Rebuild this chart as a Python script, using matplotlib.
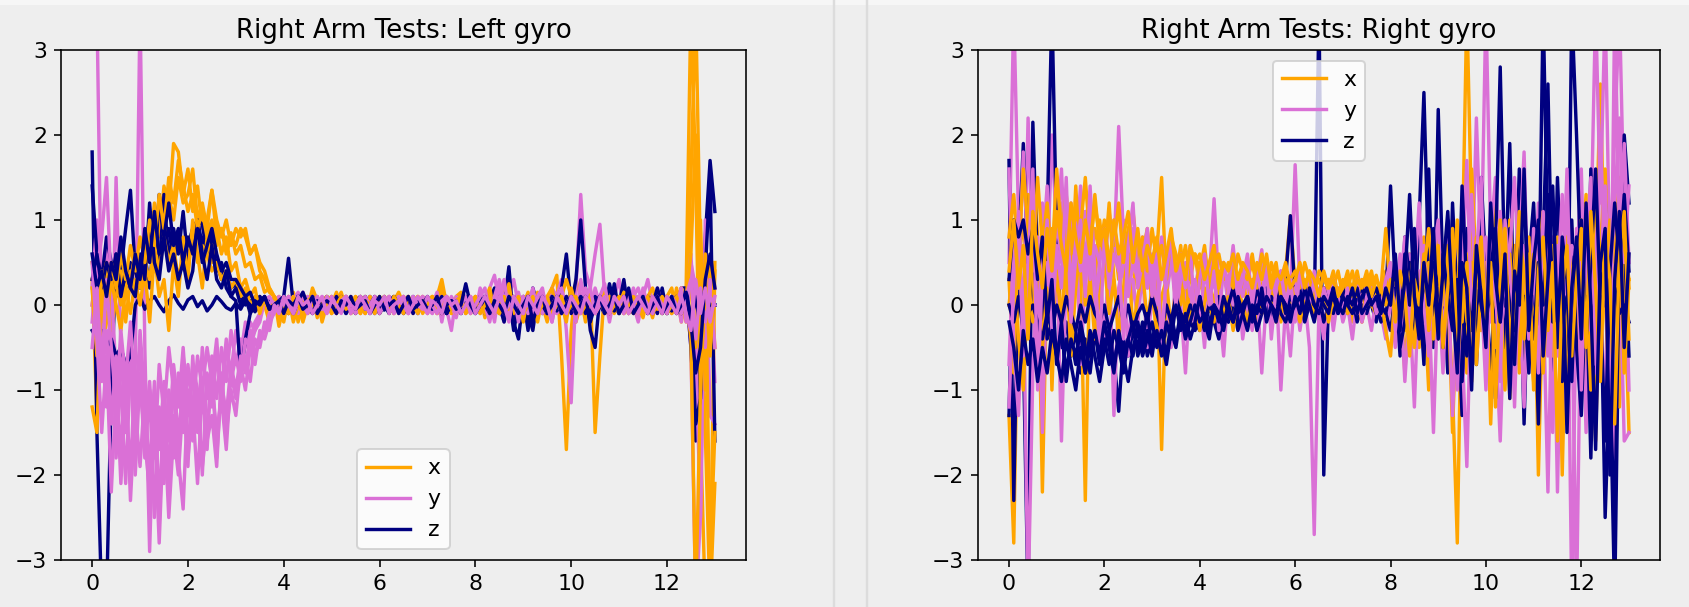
import matplotlib
matplotlib.use("Agg")
import matplotlib.pyplot as plt
from matplotlib.lines import Line2D
from matplotlib.patches import Rectangle
import numpy as np

# gyro traces, sampled every 0.1 s from 0 to 13 s (values read off the screenshot)
# --- left gyro ---
lx1 = [0.3, -1.3, -0.4, 0.5, 0.2, 0.6, 0.1, 0.4, 0.2, 0.5,
       0.3, 0.9, 0.6, 1.2, 0.8, 1.4, 1.1, 1.9, 1.8, 1.3,
       1.6, 1.1, 1.4, 0.9, 1.0, 1.35, 0.8, 0.9, 0.7, 0.85,
       0.6, 0.7, 0.45, 0.5, 0.3, 0.35, 0.15, 0.2, 0.1, 0.05,
       0.1, -0.1, 0.15, 0.0, 0.1, -0.05, 0.2, 0.05, -0.1, 0.1,
       0.0, 0.15, -0.05, 0.1, 0.0, -0.1, 0.1, 0.05, -0.05, 0.1,
       0.0, 0.1, -0.1, 0.05, 0.15, 0.0, -0.1, 0.05, 0.1, -0.05,
       0.05, 0.1, -0.05, 0.2, 0.0, -0.1, 0.1, 0.15, -0.05, 0.1,
       0.0, 0.1, -0.15, 0.1, 0.05, -0.1, 0.2, 0.0, -0.2, 0.1,
       0.0, 0.15, -0.1, 0.1, 0.0, -0.2, 0.2, 0.35, -0.6, -1.7,
       -0.3, 0.3, 0.1, -0.2, 0.2, -1.5, -0.6, 0.2, 0.1, 0.0,
       0.1, -0.1, 0.15, 0.0, -0.1, 0.1, 0.05, -0.15, 0.1, 0.0,
       0.1, -0.1, 0.2, -0.2, 0.2, 3.5, 1.5, -1.5, -3.5, -3.5,
       -2.1]
lx2 = [0.0, 0.5, -0.2, 0.4, 0.1, 0.3, 0.0, 0.2, 0.4, 0.1,
       0.5, 0.3, 0.9, 0.6, 1.1, 0.8, 1.3, 1.0, 1.5, 1.2,
       1.3, 1.6, 1.0, 1.2, 0.9, 1.35, 1.0, 0.8, 1.0, 0.7,
       0.9, 0.8, 0.9, 0.6, 0.7, 0.4, 0.3, 0.15, 0.1, -0.1,
       -0.2, 0.1, -0.1, 0.05, -0.2, 0.0, 0.1, -0.15, 0.05, 0.1,
       -0.1, 0.05, 0.15, -0.05, 0.1, 0.0, -0.1, 0.1, 0.0, 0.05,
       -0.05, 0.1, 0.0, -0.1, 0.05, 0.1, 0.0, -0.05, 0.1, 0.0,
       -0.1, 0.05, 0.1, 0.3, 0.0, -0.1, 0.05, 0.1, -0.1, 0.0,
       0.1, -0.1, 0.05, 0.2, -0.1, 0.1, 0.0, 0.25, -0.1, 0.1,
       -0.2, 0.1, 0.0, 0.15, -0.1, 0.1, 0.2, -0.1, 0.1, 0.3,
       0.1, -0.2, 0.0, 0.15, -0.1, 0.1, 0.0, 0.2, -0.1, 0.05,
       0.0, 0.15, -0.1, 0.1, 0.0, -0.15, 0.1, 0.2, 0.0, -0.1,
       0.1, 0.2, -0.1, 0.1, -0.2, 1.5, 3.5, 0.5, -1.5, -3.5,
       0.5]
lx3 = [-1.2, -1.5, 0.2, 0.5, -0.3, 0.1, 0.4, -0.2, 0.3, 0.6,
       0.2, 0.5, 0.3, 0.7, 0.4, 0.8, 0.5, 0.7, 0.3, 0.6,
       0.4, 0.9, 0.5, 0.7, 0.6, 0.4, 0.5, 0.3, 0.4, 0.2,
       0.3, 0.1, 0.2, 0.0, 0.1, -0.1, 0.0, -0.2, 0.1, -0.25,
       0.0, -0.1, 0.1, -0.2, 0.0, 0.1, -0.1, 0.0, -0.15, 0.05,
       0.1, -0.1, 0.0, 0.05, -0.1, 0.1, 0.0, -0.1, 0.05, 0.0,
       0.1, -0.05, 0.0, 0.1, -0.1, 0.05, 0.1, -0.1, 0.0, 0.1,
       -0.05, 0.0, 0.1, -0.1, 0.05, 0.0, -0.1, 0.1, 0.05, -0.1,
       0.0, 0.1, -0.1, 0.0, 0.1, -0.1, 0.0, 0.1, -0.05, 0.0,
       0.1, -0.1, 0.0, -0.2, 0.1, 0.0, -0.1, 0.1, 0.0, -0.2,
       0.2, 0.0, -0.1, 0.1, 0.0, -0.1, 0.1, 0.0, 0.1, -0.1,
       0.1, 0.0, -0.1, 0.05, 0.1, -0.1, 0.0, 0.1, -0.05, 0.0,
       0.1, -0.1, 0.05, 0.2, 0.1, -0.4, -3.5, -1.0, 0.6, -3.0,
       -1.5]
lx4 = [0.5, 0.2, -0.5, -0.2, 0.3, 0.0, -0.3, 0.2, -0.1, 0.3,
       0.0, 0.4, -0.2, 0.6, 0.1, 0.3, -0.3, 0.5, 0.1, 0.8,
       0.3, 1.0, 0.6, 0.2, 0.8, 0.5, 0.9, 0.6, 0.8, 0.4,
       0.5, 0.2, 0.3, 0.1, 0.2, -0.1, 0.1, -0.2, 0.0, 0.1,
       -0.1, 0.1, -0.2, 0.0, 0.1, -0.1, 0.0, 0.1, -0.2, 0.0,
       0.1, -0.1, 0.0, 0.1, -0.1, 0.0, 0.1, -0.1, 0.1, 0.0,
       -0.1, 0.0, 0.1, -0.1, 0.0, 0.1, -0.05, 0.0, 0.1, -0.1,
       0.0, 0.1, -0.1, 0.0, 0.1, 0.0, -0.1, 0.1, 0.0, -0.05,
       0.1, 0.0, -0.1, 0.1, 0.0, -0.1, 0.1, 0.0, 0.1, -0.1,
       0.0, 0.1, -0.1, 0.0, 0.1, -0.1, 0.05, 0.1, -0.1, 0.0,
       0.1, -0.1, 0.0, 0.1, -0.1, 0.0, 0.1, -0.1, 0.0, 0.1,
       -0.1, 0.0, 0.1, -0.1, 0.0, 0.1, -0.1, 0.0, 0.1, -0.1,
       0.0, 0.1, -0.1, 0.1, 0.0, 0.2, -0.5, 1.0, -1.0, 0.5,
       -0.5]
lx5 = [0.2, -0.6, 0.4, 0.1, 0.5, 0.2, 0.6, 0.3, 0.7, 0.4,
       0.8, 0.5, 1.0, 0.7, 1.3, 0.9, 1.5, 1.2, 1.7, 1.4,
       1.1, 1.3, 0.9, 1.1, 0.8, 1.0, 0.7, 0.9, 0.6, 0.8,
       0.7, 0.9, 0.8, 0.6, 0.7, 0.5, 0.4, 0.2, 0.1, 0.0,
       0.05, -0.1, 0.1, 0.0, -0.1, 0.05, 0.1, -0.1, 0.0, 0.1,
       -0.1, 0.0, 0.1, -0.05, 0.0, 0.1, -0.1, 0.05, 0.0, -0.1,
       0.1, 0.0, -0.05, 0.1, 0.0, -0.1, 0.1, 0.0, -0.1, 0.05,
       0.0, 0.1, -0.1, 0.0, 0.1, -0.05, 0.0, 0.1, -0.1, 0.0,
       0.1, -0.1, 0.0, 0.1, -0.1, 0.0, 0.1, -0.05, 0.0, 0.1,
       -0.1, 0.0, 0.1, -0.1, 0.0, 0.1, -0.1, 0.0, 0.1, -0.1,
       0.0, 0.1, -0.1, 0.0, 0.1, -0.1, 0.0, 0.1, -0.1, 0.0,
       0.1, -0.1, 0.0, 0.1, -0.1, 0.0, 0.1, -0.1, 0.0, 0.1,
       -0.1, 0.0, 0.1, -0.1, 0.1, 0.6, 2.0, -1.0, 0.3, -0.6,
       0.4]
ly1 = [3.5, 3.5, -0.3, 0.8, -1.0, 1.5, -0.5, -1.5, -0.6, -2.0,
       -0.8, -1.8, -1.0, -2.5, -1.2, -2.1, -1.0, -1.8, -0.8, -1.5,
       -0.7, -1.3, -0.6, -1.0, -0.5, -0.9, -0.4, -1.2, -0.5, -0.8,
       -0.3, -0.6, -0.2, -0.4, -0.2, -0.1, 0.0, -0.1, 0.1, 0.0,
       0.1, -0.1, 0.05, 0.15, -0.05, 0.0, 0.1, -0.1, 0.05, 0.0,
       -0.1, 0.1, 0.0, -0.05, 0.1, 0.05, -0.1, 0.0, 0.1, -0.05,
       0.0, 0.1, -0.05, 0.0, 0.1, -0.1, 0.05, 0.0, -0.1, 0.1,
       0.05, -0.1, 0.0, 0.1, -0.05, -0.3, 0.1, 0.0, -0.1, 0.05,
       0.0, 0.1, -0.1, 0.2, 0.35, 0.0, -0.2, 0.1, 0.3, 0.0,
       0.0, 0.1, -0.1, 0.05, 0.1, -0.1, 0.2, 0.1, 0.3, -0.3,
       -1.15, 0.2, 1.3, 0.4, 0.2, 0.6, 0.95, 0.1, -0.2, 0.1,
       0.3, -0.1, 0.1, 0.0, -0.2, 0.1, 0.3, 0.0, -0.1, 0.1,
       0.1, -0.1, 0.1, -0.2, 0.2, -0.5, -3.5, -2.5, 0.6, 0.3,
       -0.9]
ly2 = [0.2, 1.0, -0.5, -1.2, 0.3, -1.8, -0.6, -1.0, -2.0, -0.7,
       3.5, -0.5, -2.9, -1.0, -2.4, -1.2, -2.0, -0.8, -1.6, -0.9,
       -1.9, -0.6, -1.4, -0.9, -1.7, -0.6, -1.1, -0.5, -0.9, -0.3,
       -0.7, -0.4, -0.5, -0.2, -0.3, -0.1, 0.1, 0.0, 0.1, -0.1,
       0.0, 0.1, -0.1, 0.0, 0.15, -0.1, 0.05, 0.1, -0.1, 0.0,
       0.1, -0.05, 0.0, 0.1, -0.1, 0.0, 0.05, -0.1, 0.1, 0.0,
       -0.1, 0.05, 0.1, -0.05, 0.0, 0.1, -0.1, 0.05, 0.0, 0.1,
       -0.1, 0.0, 0.15, -0.2, 0.1, 0.0, -0.1, 0.1, 0.0, -0.1,
       0.1, -0.1, 0.0, 0.1, -0.2, 0.2, 0.1, -0.1, 0.0, 0.15,
       -0.1, 0.0, 0.2, -0.1, 0.1, 0.0, -0.2, 0.1, 0.2, -0.1,
       0.1, -0.2, 0.3, 0.0, -0.1, 0.2, 0.0, -0.1, 0.1, 0.0,
       -0.1, 0.1, 0.0, 0.2, -0.1, 0.0, 0.1, -0.1, 0.2, 0.0,
       0.0, 0.1, -0.1, 0.2, 0.0, 0.6, -0.5, -2.5, 1.0, -1.3,
       -1.4]
ly3 = [0.0, 0.4, 0.8, 1.5, 0.2, -0.8, -2.1, -1.0, -0.5, -1.4,
       -0.3, -1.1, -2.0, -0.9, -2.6, -1.1, -1.6, -0.7, -1.2, -0.5,
       -1.3, -0.7, -1.0, -2.0, -0.8, -1.2, -0.6, -1.0, -0.4, -0.9,
       -0.6, -0.9, -0.4, -0.5, -0.3, -0.2, 0.05, 0.1, 0.0, 0.1,
       -0.1, 0.0, 0.1, -0.1, 0.05, 0.1, 0.0, -0.1, 0.1, 0.0,
       0.05, -0.1, 0.1, 0.0, -0.1, 0.05, 0.1, 0.0, -0.1, 0.1,
       0.0, -0.05, 0.1, 0.0, -0.1, 0.05, 0.0, 0.1, -0.1, 0.0,
       0.1, 0.0, -0.1, 0.05, 0.1, 0.0, -0.15, 0.1, 0.0, 0.1,
       -0.1, 0.0, 0.1, -0.1, 0.1, 0.3, 0.0, -0.1, 0.1, 0.0,
       0.1, -0.1, 0.0, 0.1, -0.1, 0.0, 0.1, -0.1, 0.0, 0.1,
       0.0, -0.1, 0.1, 0.2, -0.1, 0.0, 0.1, 0.25, -0.1, 0.0,
       0.1, 0.0, -0.1, 0.1, 0.2, 0.0, -0.1, 0.0, 0.1, -0.1,
       0.0, 0.1, 0.0, -0.1, 0.1, 0.4, -0.6, 0.2, -0.4, 0.5,
       0.2]
ly4 = [-0.2, 0.5, -0.8, 0.3, -0.5, -1.2, -0.3, -0.9, -0.2, -1.1,
       -0.5, -1.5, -0.9, -1.8, -0.7, -1.3, -0.5, -1.0, -1.9, -0.6,
       -1.2, -0.8, -1.5, -0.5, -1.1, -0.7, -1.8, -0.9, -1.3, -0.7,
       -1.0, -0.6, -0.8, -0.3, -0.6, -0.4, -0.3, -0.1, 0.0, 0.1,
       0.0, 0.1, -0.1, 0.0, 0.1, 0.0, -0.1, 0.1, 0.0, -0.1,
       0.1, 0.0, -0.05, 0.1, 0.0, -0.1, 0.0, 0.1, 0.0, -0.1,
       0.05, 0.0, 0.1, -0.1, 0.0, 0.1, 0.0, -0.1, 0.05, 0.1,
       0.0, -0.1, 0.1, 0.0, -0.05, 0.1, 0.0, -0.1, 0.1, 0.0,
       -0.1, 0.2, 0.0, -0.2, 0.1, 0.0, 0.3, -0.1, 0.1, 0.0,
       -0.1, 0.1, 0.0, -0.1, 0.15, 0.0, -0.1, 0.1, 0.0, -0.1,
       0.1, 0.0, -0.1, 0.1, 0.0, -0.1, 0.1, 0.0, -0.1, 0.1,
       0.0, -0.1, 0.1, 0.0, -0.1, 0.2, 0.0, -0.1, 0.1, 0.0,
       -0.1, 0.1, 0.0, 0.2, -0.2, 0.5, 0.2, -0.3, -0.5, 0.3,
       -0.5]
ly5 = [0.5, -0.4, -1.5, -0.6, -2.2, -1.0, -1.7, -0.8, -2.3, -1.2,
       -1.9, -1.0, -2.2, -1.4, -2.8, -1.3, -2.5, -1.5, -2.0, -1.1,
       -1.8, -1.2, -2.1, -1.0, -1.6, -1.3, -1.9, -0.8, -1.5, -1.0,
       -1.3, -0.7, -1.0, -0.5, -0.7, -0.3, -0.4, -0.2, -0.1, 0.05,
       0.0, 0.1, -0.1, 0.05, 0.0, -0.1, 0.1, 0.0, -0.05, 0.1,
       0.0, -0.1, 0.05, 0.1, -0.1, 0.0, 0.1, -0.05, 0.0, 0.1,
       -0.1, 0.0, 0.1, -0.1, 0.05, 0.0, -0.1, 0.1, 0.0, -0.05,
       0.1, 0.0, -0.1, 0.05, 0.1, 0.0, -0.1, 0.0, 0.1, -0.1,
       0.0, 0.1, 0.2, -0.1, 0.0, 0.25, -0.1, 0.0, 0.1, -0.2,
       0.1, 0.0, -0.1, 0.1, 0.2, -0.1, 0.0, 0.1, -0.1, 0.0,
       0.1, -0.1, 0.0, 0.1, 0.2, -0.1, 0.0, 0.1, -0.1, 0.1,
       0.0, -0.1, 0.1, 0.0, -0.1, 0.1, 0.0, -0.1, 0.1, 0.0,
       -0.1, 0.1, 0.0, -0.1, 0.1, 0.3, -0.4, 0.2, -0.2, 0.1,
       0.0]
ly6 = [-0.5, 0.2, -0.9, -0.3, -1.4, -0.6, -1.0, -2.1, -0.7, -1.3,
       -0.9, -1.6, -2.2, -1.2, -1.7, -0.9, -2.1, -1.3, -1.8, -2.4,
       -1.0, -1.6, -1.1, -1.9, -1.4, -0.9, -1.5, -1.1, -1.7, -0.8,
       -1.1, -0.8, -0.6, -0.9, -0.4, -0.5, -0.2, -0.3, 0.0, -0.1,
       0.1, 0.0, -0.1, 0.1, 0.0, 0.05, -0.1, 0.0, 0.1, -0.1,
       0.05, 0.0, -0.1, 0.1, 0.0, -0.05, 0.1, 0.0, -0.1, 0.05,
       0.0, 0.1, -0.1, 0.0, 0.05, 0.1, -0.1, 0.0, 0.1, 0.0,
       -0.1, 0.05, 0.0, -0.1, 0.1, 0.0, 0.05, -0.1, 0.0, 0.1,
       -0.1, 0.0, 0.1, 0.0, -0.1, 0.1, 0.0, -0.2, 0.1, 0.0,
       -0.1, 0.1, 0.0, -0.1, 0.1, 0.0, -0.2, 0.1, 0.0, -0.1,
       0.1, 0.0, -0.1, 0.1, 0.0, -0.1, 0.1, 0.0, -0.1, 0.1,
       0.0, 0.1, -0.1, 0.0, 0.1, 0.0, -0.1, 0.1, 0.0, -0.1,
       0.1, 0.0, -0.1, 0.1, -0.1, -0.3, 0.3, -0.1, 0.2, -0.2,
       0.1]
lz1 = [1.8, -1.5, -3.5, -3.5, -1.0, 0.6, 0.3, 0.2, 0.5, 0.1,
       0.3, 0.6, 0.2, 0.9, 0.4, 1.3, 0.5, 0.9, 0.6, 1.1,
       0.5, 0.8, 1.0, 0.7, 1.0, 0.6, 0.5, 0.3, 0.4, 0.2,
       0.25, 0.1, 0.0, 0.05, -0.05, 0.1, 0.0, 0.05, -0.05, 0.0,
       0.1, 0.55, 0.0, 0.1, -0.05, 0.05, 0.1, 0.0, -0.1, 0.05,
       0.0, 0.05, -0.05, 0.1, 0.0, -0.1, 0.05, 0.0, 0.1, -0.05,
       0.0, 0.1, -0.05, 0.0, 0.05, -0.1, 0.0, 0.1, -0.05, 0.0,
       0.05, -0.05, 0.1, 0.0, -0.1, 0.05, 0.0, 0.1, -0.05, 0.0,
       0.0, 0.1, -0.1, 0.05, 0.2, -0.1, 0.0, 0.45, -0.2, -0.4,
       0.1, -0.3, 0.2, 0.0, -0.1, 0.1, 0.0, 0.05, 0.2, 0.6,
       0.0, 0.3, 1.0, 0.2, -0.3, -0.5, 0.1, 0.2, -0.1, 0.1,
       0.0, 0.3, -0.1, 0.1, 0.0, -0.1, 0.1, 0.05, -0.1, 0.2,
       -0.1, 0.1, 0.0, 0.2, 0.2, -0.5, -1.6, -0.3, 0.8, 1.7,
       1.1]
lz2 = [1.4, 0.6, 0.3, 0.8, 0.5, 0.1, 0.4, 0.9, 1.35, 0.4,
       0.2, 0.7, 1.0, 0.4, 1.3, 0.7, 0.9, 0.5, 0.8, 0.6,
       0.7, 0.9, 1.0, 0.95, 0.6, 0.8, 0.4, 0.5, 0.2, 0.1,
       0.05, -0.85, -0.4, -0.1, 0.0, 0.1, 0.0, -0.1, 0.05, 0.0,
       0.05, -0.1, 0.0, 0.1, -0.05, 0.0, 0.1, -0.1, 0.0, 0.05,
       -0.05, 0.1, 0.0, -0.1, 0.05, 0.0, -0.05, 0.1, 0.0, -0.1,
       0.05, 0.0, -0.1, 0.1, 0.0, -0.05, 0.05, 0.0, -0.1, 0.05,
       0.0, -0.05, 0.1, 0.0, -0.1, 0.0, 0.05, -0.1, 0.1, 0.0,
       -0.1, 0.05, 0.0, -0.1, 0.1, 0.0, -0.2, 0.1, -0.3, 0.0,
       0.1, -0.1, -0.3, 0.1, 0.0, -0.1, 0.1, 0.0, -0.1, 0.1,
       -0.1, 0.0, 0.1, -0.1, 0.0, 0.1, 0.0, -0.1, 0.25, 0.0,
       -0.1, 0.1, 0.0, -0.1, 0.1, 0.0, 0.1, -0.1, 0.0, 0.1,
       -0.1, 0.0, 0.1, -0.1, 0.1, -0.2, -1.4, -1.1, 0.4, 1.5,
       -1.6]
lz3 = [-0.3, -0.4, -0.3, -0.5, -0.4, -0.6, -0.5, -0.7, -0.6, 0.0,
       0.1, -0.05, 0.05, 0.1, 0.0, -0.08, 0.05, 0.12, 0.02, -0.05,
       0.06, 0.1, -0.02, 0.05, -0.07, 0.0, 0.1, 0.04, -0.03, -0.06,
       0.02, -0.05, 0.06, 0.0, -0.08, 0.02, 0.05, -0.02, -0.06, 0.03,
       0.05, -0.02, -0.06, 0.01, 0.07, -0.05, 0.0, 0.06, -0.03, -0.05,
       0.02, 0.06, -0.01, -0.07, 0.03, 0.05, -0.02, -0.06, 0.01, 0.05,
       -0.03, -0.06, 0.02, 0.06, -0.01, -0.05, 0.03, 0.07, -0.02, -0.06,
       0.01, 0.05, -0.03, -0.07, 0.02, 0.06, -0.01, -0.05, 0.03, 0.07,
       -0.02, -0.06, 0.01, 0.05, -0.03, -0.07, 0.02, 0.06, -0.01, -0.05,
       0.03, 0.07, -0.02, -0.06, 0.01, 0.05, -0.03, -0.07, 0.02, 0.06,
       -0.01, -0.05, 0.03, 0.07, -0.02, -0.06, 0.01, 0.05, -0.03, -0.07,
       0.02, 0.06, -0.01, -0.05, 0.03, 0.07, -0.02, -0.06, 0.01, 0.05,
       -0.03, -0.07, 0.02, 0.06, 0.0, -0.1, 0.2, 0.0, -0.1, 0.0,
       0.0]
lz4 = [0.3, 0.6, 0.2, 0.5, 0.3, 0.6, 0.1, 0.4, 0.2, 0.1,
       0.6, 0.3, 1.2, 0.5, 0.3, 0.8, 0.4, 0.6, 0.3, 0.5,
       0.2, 0.4, 1.0, 0.6, 0.3, 0.7, 0.3, 0.2, 0.4, 0.1,
       0.2, 0.0, 0.1, -0.1, 0.05, 0.0, 0.1, -0.05, 0.0, 0.05,
       0.1, 0.0, -0.1, 0.05, 0.15, 0.0, -0.1, 0.05, 0.0, 0.1,
       -0.05, 0.0, 0.1, -0.1, 0.0, 0.05, 0.1, -0.05, 0.0, 0.1,
       -0.1, 0.0, 0.05, 0.1, -0.05, 0.0, 0.1, -0.1, 0.05, 0.0,
       0.1, -0.05, 0.0, 0.1, -0.1, 0.05, 0.0, -0.1, 0.1, 0.0,
       -0.05, 0.1, 0.0, -0.1, 0.05, 0.1, -0.1, 0.0, 0.1, -0.05,
       0.0, 0.1, -0.1, 0.05, 0.0, -0.1, 0.1, 0.0, -0.05, 0.1,
       0.0, -0.1, 0.1, 0.0, -0.1, 0.05, 0.1, 0.0, -0.1, 0.25,
       -0.1, 0.0, 0.1, -0.05, 0.0, 0.1, -0.1, 0.0, 0.2, 0.0,
       -0.1, 0.1, 0.0, -0.1, 0.2, -0.2, 0.1, -0.3, 0.1, 0.0,
       0.0]
lz5 = [0.6, 0.2, 0.4, 0.1, 0.5, 0.3, 0.8, 0.4, 0.2, 0.6,
       0.3, 0.9, 0.5, 1.1, 0.6, 0.8, 1.2, 0.7, 0.9, 0.5,
       0.8, 0.6, 0.9, 0.5, 0.7, 0.9, 0.6, 0.4, 0.5, 0.3,
       0.3, 0.2, 0.1, 0.15, 0.0, 0.05, 0.1, -0.05, 0.0, 0.05,
       -0.1, 0.05, 0.0, 0.1, -0.05, 0.0, 0.1, -0.1, 0.0, 0.05,
       0.0, -0.1, 0.05, 0.0, 0.1, -0.05, 0.0, 0.05, -0.1, 0.0,
       0.1, -0.05, 0.0, 0.05, -0.1, 0.0, 0.1, -0.05, 0.0, 0.05,
       -0.05, 0.0, 0.1, -0.1, 0.0, 0.05, -0.05, 0.0, 0.25, 0.0,
       -0.1, 0.0, 0.1, -0.1, 0.05, 0.0, -0.1, 0.1, 0.0, -0.1,
       0.0, 0.1, -0.2, 0.0, 0.1, -0.1, 0.0, 0.1, -0.1, 0.0,
       0.1, -0.1, 0.0, 0.1, -0.2, 0.0, 0.1, -0.1, 0.0, 0.1,
       -0.1, 0.0, 0.2, -0.1, 0.0, 0.1, -0.1, 0.0, 0.1, -0.1,
       0.0, 0.1, -0.1, 0.0, 0.15, -0.2, -0.8, -0.5, 0.3, 0.6,
       0.2]

# --- right gyro ---
rx1 = [-1.3, -2.8, 0.5, 1.0, 0.2, 1.7, 0.8, -2.2, 0.5, 0.9,
       0.4, 1.2, 0.6, 1.0, 0.3, 0.8, 1.1, 0.5, 0.9, 0.6,
       1.0, 0.5, 0.8, 0.3, 0.9, 0.4, 0.7, 0.2, 0.6, 0.9,
       0.3, 0.6, 1.5, 0.2, 0.5, 0.3, 0.7, 0.1, 0.4, 0.6,
       0.2, 0.5, 0.3, 0.6, 0.1, 0.4, 0.3, 0.5, 0.2, 0.4,
       0.3, 0.6, 0.2, 0.4, 0.1, 0.5, 0.3, 0.2, 0.4, 1.05,
       0.2, 0.3, 0.1, 0.4, 0.2, 0.3, 0.1, 0.3, 0.2, 0.4,
       0.1, 0.3, 0.2, 0.4, 0.1, 0.3, 0.2, 0.35, 0.1, 0.4,
       0.2, 0.0, 0.5, -0.3, 0.6, 0.1, -0.5, 0.8, 0.0, 0.5,
       -0.4, 0.7, 0.2, -1.0, -2.8, 0.5, 3.5, 1.0, -0.5, 0.6,
       -0.8, 0.4, 1.2, -0.6, 0.3, -1.1, 0.7, 0.0, -0.9, 0.5,
       0.8, -2.0, 0.3, 1.0, -0.5, 0.6, -1.3, 0.2, 0.9, -0.7,
       0.4, 1.3, -1.0, 0.5, 2.6, 0.1, -1.2, 0.8, 1.5, 0.3,
       -1.5]
rx2 = [0.3, -0.8, 0.9, -0.5, 1.3, 0.4, -0.6, 0.7, 1.1, -1.0,
       0.6, -0.3, 0.9, 0.2, 1.4, 0.4, -2.3, 0.8, 0.3, 1.0,
       0.5, 1.2, 0.3, -0.2, 0.9, 0.5, 0.1, 0.8, 0.2, 0.6,
       0.0, 0.4, -1.7, 0.3, 0.6, 0.0, 0.5, -0.2, 0.4, 0.1,
       0.5, -0.1, 0.3, 0.0, 0.4, -0.2, 0.2, 0.4, -0.1, 0.3,
       0.0, 0.3, -0.3, 0.2, 0.5, -0.1, 0.2, -0.2, 0.3, 0.0,
       0.2, -0.1, 0.3, 0.0, 0.2, -0.2, 0.1, 0.3, -0.1, 0.2,
       0.0, 0.3, -0.2, 0.1, 0.2, -0.1, 0.3, 0.0, 0.2, 0.9,
       0.1, -0.4, 0.3, -0.8, 0.2, 0.6, -0.3, 0.1, -1.0, 0.4,
       0.8, -0.6, 0.3, -1.5, 0.2, 0.9, -0.8, 1.6, 0.4, -0.3,
       0.5, -1.4, 0.2, 0.8, -0.4, 1.0, 0.1, -0.8, 0.6, -0.2,
       -0.9, 0.5, 1.1, 0.0, -0.6, 0.8, -2.0, 0.4, 0.7, -0.5,
       1.0, -0.8, 0.3, -1.6, 0.7, 1.6, -0.4, 0.9, -1.2, 0.6,
       0.2]
rx3 = [0.0, 0.5, -0.4, -1.0, 0.3, -0.2, 0.6, -0.5, 0.2, -0.3,
       0.4, -0.2, 0.5, -0.6, 0.2, 0.7, 0.0, 0.3, -0.4, 0.1,
       0.5, -0.1, 0.3, -0.4, 0.2, 0.6, -0.3, 0.1, 0.4, -0.2,
       0.2, -0.4, 0.1, 0.3, -0.3, 0.2, 0.0, 0.4, -0.2, 0.1,
       -0.3, 0.2, 0.0, -0.2, 0.3, -0.1, 0.1, -0.3, 0.2, 0.0,
       -0.2, 0.1, 0.3, -0.1, 0.0, 0.2, -0.2, 0.1, -0.1, 0.3,
       0.0, -0.2, 0.1, 0.2, -0.1, 0.0, 0.2, -0.2, 0.1, 0.0,
       0.2, -0.1, 0.0, 0.1, -0.2, 0.2, 0.0, -0.1, 0.1, -0.3,
       -0.6, 0.2, -0.2, 0.4, -0.1, -0.5, 0.3, 0.0, 0.5, -0.4,
       0.2, -0.3, 0.6, 0.0, -0.5, 0.3, -0.2, 0.5, -0.7, 0.2,
       -0.3, 0.6, -0.5, 0.2, -1.0, 0.4, 0.0, -0.6, 0.3, 0.8,
       -0.2, 0.4, -0.8, 0.3, 0.1, -0.4, 0.5, -1.1, 0.2, 0.6,
       -0.5, 0.3, -1.0, 0.8, -0.3, 0.5, -1.5, 0.2, 0.9, -0.8,
       0.3]
rx4 = [0.8, 1.3, 0.5, 1.6, 0.9, 0.4, 1.5, 0.7, 1.2, 0.5,
       1.6, 0.8, 1.3, 0.6, 1.1, 0.9, 1.5, 0.7, 1.2, 0.8,
       0.6, 1.0, 0.7, 1.2, 0.5, 0.9, 1.1, 0.6, 0.8, 0.4,
       0.9, 0.5, 0.7, 0.3, 0.8, 0.6, 0.4, 0.7, 0.3, 0.6,
       0.4, 0.7, 0.2, 0.5, 0.6, 0.3, 0.5, 0.2, 0.6, 0.4,
       0.3, 0.5, 0.2, 0.6, 0.4, 0.3, 0.5, 0.1, 0.4, 0.3,
       0.4, 0.2, 0.5, 0.3, 0.1, 0.4, 0.3, 0.2, 0.4, 0.1,
       0.3, 0.2, 0.4, 0.1, 0.3, 0.2, 0.4, 0.1, 0.2, 0.3,
       0.1, 0.4, -0.1, 0.5, 0.2, 0.7, 0.0, 0.4, 0.9, 0.2,
       0.5, 0.0, 0.7, 0.3, 1.0, -0.2, 0.6, 0.2, 0.8, 0.4,
       0.1, 0.7, 0.3, 1.0, 0.2, 0.6, -0.1, 0.8, 0.4, 0.0,
       0.6, 0.2, 0.9, 0.4, 0.7, 0.1, 0.5, 0.8, 0.3, 0.6,
       0.2, 0.9, 0.4, 1.2, 0.6, 0.3, 1.0, 0.5, 1.3, 0.7,
       0.3]
rx5 = [0.4, 1.0, 0.2, 0.7, -0.4, 1.1, 0.6, 0.2, 0.9, 0.4,
       1.1, 0.7, 0.4, 1.2, 0.8, 0.5, 1.0, 0.6, 1.3, 0.7,
       0.9, 0.4, 1.0, 0.6, 0.8, 1.1, 0.5, 0.9, 0.4, 0.7,
       0.5, 0.8, 0.3, 0.6, 0.9, 0.4, 0.6, 0.3, 0.7, 0.5,
       0.6, 0.3, 0.5, 0.7, 0.2, 0.5, 0.4, 0.6, 0.3, 0.5,
       0.4, 0.2, 0.5, 0.3, 0.6, 0.2, 0.4, 0.3, 0.5, 0.2,
       0.3, 0.5, 0.2, 0.4, 0.3, 0.1, 0.4, 0.2, 0.3, 0.1,
       0.2, 0.4, 0.1, 0.3, 0.2, 0.4, 0.1, 0.3, 0.2, 0.0,
       0.3, -0.2, 0.4, 0.1, -0.6, 0.3, 0.0, 0.6, -0.3, 0.2,
       0.7, -0.5, 0.2, 0.9, -0.7, 0.1, 0.5, -0.9, 0.3, 0.8,
       -0.2, 0.5, -1.2, 0.3, 0.9, -0.5, 0.2, 1.1, -0.4, 0.6,
       -1.0, 0.4, 0.8, -0.3, 0.5, -1.6, 0.2, 0.7, -0.6, 0.3,
       0.9, -0.5, 1.1, 0.2, -0.9, 0.8, 0.3, -1.4, 0.6, 1.1,
       -0.4]
ry1 = [0.5, 3.5, 1.0, -0.3, 2.2, 0.6, -0.8, 1.2, 0.4, 2.0,
       0.8, 1.6, 0.3, 1.2, 0.6, 1.4, 0.5, 1.0, 0.3, 0.9,
       0.4, 1.1, 0.6, 2.1, 0.8, 0.3, 0.9, 0.4, 0.7, 0.2,
       0.6, 0.3, 0.8, 0.1, 0.5, 0.3, 0.6, 0.0, 0.4, 0.2,
       0.5, 0.1, 0.3, 1.25, 0.2, 0.4, 0.0, 0.3, 0.1, 0.4,
       0.2, 0.0, 0.3, 0.65, 0.1, 0.3, 0.0, 0.2, 0.4, 0.1,
       1.65, 0.2, 0.0, 0.3, 0.1, 0.2, 0.0, 0.3, 0.1, 0.2,
       0.0, 0.2, 0.1, 0.3, 0.0, 0.2, 0.1, 0.0, 0.2, 0.1,
       0.3, 0.0, 0.4, -0.2, 0.6, 0.1, -0.3, 0.5, 0.2, 0.8,
       0.0, 0.6, -0.4, 1.0, 0.2, -0.6, 0.8, 0.1, 2.2, 0.5,
       3.5, 0.8, 1.5, 0.3, -0.5, 0.9, 0.2, 1.1, -0.3, 0.6,
       0.0, 1.2, 0.3, -0.6, 0.8, -2.2, 0.5, 1.0, -3.5, 0.4,
       1.6, -0.5, 0.8, 3.5, 1.2, 3.5, 0.4, 2.0, 3.5, 1.0,
       -1.0]
ry2 = [1.6, -0.5, -1.3, 0.3, -3.5, -0.8, 0.8, -1.5, 0.5, -0.2,
       0.6, -1.6, 0.4, -0.3, 1.0, -0.7, 0.3, 0.8, -0.2, 0.5,
       -0.4, 0.6, -1.3, 0.2, 0.5, -0.6, 0.3, -0.2, 0.4, -0.5,
       0.1, 0.5, -0.3, 0.2, -0.5, 0.4, 0.0, -0.8, 0.2, -0.3,
       0.1, -0.5, 0.3, -0.2, 0.0, -0.6, 0.2, -0.1, 0.3, -0.4,
       0.0, -0.3, 0.2, -0.8, 0.1, -0.2, 0.3, -1.0, 0.0, -0.6,
       0.2, -0.3, 0.1, -0.5, -2.7, 0.0, -0.4, 0.2, -0.3, 0.1,
       -0.2, 0.0, -0.4, 0.1, -0.2, 0.0, -0.3, 0.1, -0.1, -0.4,
       0.1, -0.5, 0.2, -0.9, 0.0, -1.2, 0.4, -0.6, 0.1, -1.5,
       0.3, -0.8, 0.5, -1.3, 0.0, -0.5, -1.9, 0.4, -0.7, 0.2,
       -1.0, 0.5, -0.3, -1.6, 0.1, 0.6, -0.8, 0.2, -1.2, 0.4,
       0.3, -1.0, 0.1, -2.2, 0.5, -0.6, 0.2, -1.4, 0.0, -3.5,
       0.5, -1.5, 0.7, -0.8, 0.2, -1.3, 1.0, -2.0, 0.6, -1.6,
       -1.5]
ry3 = [-0.7, 0.8, 0.2, 1.8, 0.5, 1.2, -0.2, 0.6, 1.4, 0.3,
       1.0, 0.5, 1.3, 0.2, 0.8, 0.4, 1.1, 0.3, 0.7, 0.5,
       0.9, 0.2, 0.6, 0.4, 1.0, 0.1, 0.5, 0.3, 0.8, 0.2,
       0.5, 0.0, 0.4, 0.2, 0.6, -0.1, 0.3, 0.5, 0.1, 0.3,
       -0.2, 0.4, 0.1, 0.3, -0.1, 0.5, 0.2, 0.0, 0.3, 0.1,
       0.4, 0.0, 0.2, 0.5, -0.1, 0.3, 0.1, 0.4, 0.0, 0.2,
       0.3, 0.0, 0.2, 0.1, 0.4, -0.1, 0.2, 0.0, 0.3, 0.1,
       0.0, 0.2, 0.1, -0.1, 0.3, 0.0, 0.2, 0.1, -0.1, 0.2,
       0.4, 0.0, 0.6, 0.2, -0.2, 0.5, 0.1, 0.7, -0.1, 0.3,
       0.6, 0.0, 0.9, 0.3, -0.3, 0.7, 0.1, 1.3, 0.2, 0.5,
       0.8, -0.2, 0.4, 1.1, 0.0, 0.6, 1.5, 0.2, 0.7, -0.4,
       0.9, 0.3, 1.0, -0.3, 0.6, 0.2, 1.3, 0.0, 0.7, 0.5,
       0.2, 1.1, -0.3, 0.9, 0.4, 1.4, 0.0, 1.2, 2.2, 0.5,
       1.4]
ry4 = [-1.2, 0.3, 1.1, -0.6, 0.5, 1.6, -1.0, 0.4, 1.0, -0.3,
       0.7, 0.2, 1.5, -0.2, 0.6, 1.0, 0.1, 1.4, 0.4, -0.5,
       0.8, 0.3, 1.0, 0.5, -0.4, 0.7, 1.2, 0.2, 0.5, 0.9,
       0.1, 0.6, -0.5, 0.4, 0.8, 0.0, 0.5, 0.2, 0.7, -0.2,
       0.3, 0.6, 0.0, 0.4, -0.3, 0.5, 0.2, 0.7, 0.1, 0.3,
       0.6, 0.0, 0.4, 0.1, 0.5, -0.4, 0.2, 0.4, 0.0, 0.3,
       -0.2, 0.4, 0.1, 0.0, 0.3, -0.1, 0.2, 0.0, 0.3, 0.1,
       -0.1, 0.2, 0.0, 0.3, -0.2, 0.1, 0.2, -0.1, 0.0, 0.3,
       0.5, -0.3, 0.2, 0.8, -0.5, 0.3, 1.2, 0.0, -0.6, 0.6,
       1.0, -0.4, 0.3, 0.7, -1.0, 0.4, 1.7, -0.2, 0.5, 1.5,
       -0.5, 0.9, 0.2, -0.9, 1.0, 0.4, -1.2, 0.6, 1.8, -0.3,
       0.5, -0.8, 1.1, 0.3, -1.5, 0.7, 0.0, 1.6, -0.6, 0.9,
       -1.0, 0.6, 1.5, -0.7, 2.0, 0.4, -1.3, 3.5, 0.8, 1.9,
       0.5]
rz1 = [1.7, -2.3, 0.8, -0.5, -3.5, 2.15, 0.4, -0.3, 1.0, 3.5,
       0.8, -0.5, -0.2, -0.6, -0.3, -0.8, -0.4, -0.6, -0.3, -0.7,
       -0.5, -0.3, -0.6, -1.25, -0.4, -0.6, -0.3, -0.5, -0.2, -0.6,
       -0.4, -0.2, -0.5, -0.3, -0.1, -0.4, -0.2, -0.3, 0.0, -0.2,
       -0.3, -0.1, -0.2, 0.0, -0.3, -0.1, -0.2, 0.1, -0.2, 0.0,
       -0.1, 0.1, -0.2, 0.0, 0.2, -0.1, 0.1, 0.0, 0.3, 1.05,
       0.1, -0.2, 0.0, 0.1, -0.1, 3.5, -2.0, 0.1, -0.1, 0.0,
       0.1, -0.1, 0.0, 0.2, -0.1, 0.1, 0.0, -0.2, 0.1, 0.0,
       1.4, 0.2, -0.6, 0.8, 0.3, -0.2, 1.0, 2.5, 0.4, -0.5,
       2.3, 0.3, -0.8, 1.2, 0.0, -1.3, 0.9, 0.2, -0.6, 1.5,
       0.4, -1.0, 0.6, 2.8, 0.2, 1.9, -0.4, 0.8, -1.4, 0.5,
       1.2, -0.3, 3.5, 0.6, -0.8, 1.5, 0.1, -1.2, 3.5, 2.0,
       0.3, -1.0, 1.6, -0.6, 0.4, -2.5, -0.8, -3.5, 0.5, 2.0,
       1.2]
rz2 = [-1.3, 1.0, 0.6, 1.9, 0.5, 0.9, -0.2, 0.6, -0.4, -0.2,
       -0.6, -0.3, -0.8, -0.4, -0.7, -0.2, -0.5, -0.8, -0.3, -0.6,
       -0.4, -0.7, -0.3, -0.5, -0.8, -0.4, -0.6, -0.2, -0.5, -0.3,
       -0.6, -0.2, -0.4, -0.7, -0.3, -0.5, -0.1, -0.4, -0.2, -0.3,
       -0.1, -0.3, 0.0, -0.2, -0.4, -0.1, -0.2, 0.0, -0.3, -0.1,
       -0.2, 0.0, -0.3, -0.1, 0.0, -0.2, 0.1, -0.1, -0.2, 0.0,
       -0.1, 0.1, -0.2, 0.0, -0.1, 0.1, -0.2, 0.0, -0.1, 0.1,
       -0.1, 0.0, 0.1, -0.2, 0.0, -0.1, 0.1, 0.0, -0.2, -0.1,
       -0.3, 0.1, -0.5, -0.2, 0.5, -0.4, 0.2, -0.7, 1.6, -0.3,
       0.6, -0.5, 1.0, -0.2, 0.3, -0.9, 0.5, 0.0, -0.7, 1.3,
       -0.4, 0.8, -1.1, 0.2, -0.5, 0.9, -0.3, 1.6, 0.1, -0.8,
       0.5, -1.4, 0.8, 2.6, -0.2, 0.4, -0.9, 0.6, 1.0, -0.5,
       -1.3, 0.3, -1.8, 0.4, -0.6, 1.3, -1.0, -2.6, 0.6, 0.8,
       -0.6]
rz3 = [0.0, -0.2, 0.1, -0.3, -0.1, 0.0, -0.2, -0.4, -0.1, -0.3,
       0.0, -0.2, 0.1, -0.1, -0.3, 0.0, -0.2, 0.1, -0.1, -0.2,
       0.0, -0.3, -0.1, 0.1, -0.2, 0.0, -0.3, -0.1, 0.0, -0.2,
       0.1, -0.1, -0.3, 0.0, -0.2, 0.1, -0.1, -0.2, 0.0, -0.1,
       0.1, -0.2, 0.0, -0.1, 0.1, -0.2, 0.0, 0.2, -0.1, 0.0,
       0.1, -0.1, 0.2, 0.0, -0.1, 0.1, 0.0, 0.2, -0.1, 0.1,
       0.0, 0.2, -0.1, 0.1, 0.0, -0.1, 0.2, 0.0, 0.1, -0.1,
       0.2, 0.0, -0.1, 0.1, 0.2, 0.0, 0.1, -0.1, 0.1, 0.2,
       0.0, 0.2, -0.1, 0.3, 0.0, 0.1, 0.2, -0.2, 0.1, 0.0,
       0.2, -0.1, 0.1, -0.3, 0.2, 0.0, -0.6, 0.1, 0.0, 0.2,
       -0.1, 0.1, -0.2, 0.2, 0.0, -0.1, 0.2, 0.0, 0.1, -0.2,
       0.1, 0.0, 0.2, -0.1, 0.1, 0.0, -0.2, 0.1, 0.0, 0.2,
       -0.1, 0.1, 0.0, -0.2, 0.1, 0.0, -0.1, 0.2, -0.1, 0.0,
       -0.2]
rz4 = [0.3, 1.0, 0.8, 1.0, 0.6, 0.9, 0.3, 0.8, -0.2, 0.3,
       -0.7, -0.2, -0.9, -0.4, -0.6, -0.3, -0.8, -0.5, -0.3, -0.6,
       -0.2, -0.5, -0.8, -0.3, -0.6, -0.4, -0.2, -0.6, -0.4, -0.1,
       -0.5, -0.3, -0.6, -0.2, -0.4, 0.0, -0.3, -0.1, -0.4, -0.2,
       0.1, -0.2, -0.4, 0.0, -0.1, -0.3, 0.0, -0.2, 0.1, -0.1,
       -0.3, 0.0, -0.1, 0.2, -0.2, 0.0, -0.1, 0.1, 0.0, -0.2,
       0.1, -0.1, 0.2, 0.0, -0.2, 0.1, 0.0, -0.1, 0.2, 0.0,
       -0.1, 0.1, 0.0, 0.2, -0.1, 0.0, 0.1, 0.2, 0.0, -0.1,
       0.2, 0.4, -0.3, 0.6, 0.0, 0.9, -0.2, 0.3, 0.0, 0.5,
       -0.4, 0.6, 0.1, 0.3, -0.6, 1.4, 0.2, -0.3, 0.5, 0.0,
       -0.3, 0.4, 0.9, -0.2, 0.5, 0.0, -0.7, 0.6, 1.2, 0.2,
       -0.4, 0.5, 0.0, 1.3, 0.2, -0.5, 0.8, 0.3, -0.9, 0.6,
       1.0, -0.4, 0.5, 1.6, 0.0, -1.6, 0.4, 1.2, 0.5, 1.3,
       0.4]
rz5 = [-0.2, -0.5, -1.0, -0.3, -0.7, -0.4, -0.9, -0.5, -0.8, -0.3,
       -0.6, -0.9, -0.4, -0.7, -1.0, -0.5, -0.8, -0.3, -0.6, -0.9,
       -0.5, -0.3, -0.7, -0.4, -0.6, -0.9, -0.5, -0.3, -0.6, -0.4,
       -0.2, -0.5, -0.3, -0.6, -0.2, -0.4, -0.1, -0.3, -0.2, 0.0,
       -0.2, -0.1, -0.3, 0.0, -0.2, 0.1, -0.1, -0.2, 0.0, -0.1,
       0.1, -0.2, 0.0, -0.1, 0.1, 0.0, -0.2, 0.1, 0.0, -0.1,
       0.0, 0.1, -0.1, 0.2, 0.0, -0.1, 0.1, 0.0, 0.2, -0.1,
       0.1, 0.0, 0.2, -0.1, 0.1, 0.2, 0.0, 0.1, -0.1, 0.2,
       0.0, 0.6, -0.2, 0.3, 1.3, 0.1, -0.4, 0.5, 0.0, 0.9,
       -0.3, 0.4, 1.1, 0.0, -0.8, 0.5, 0.2, -1.0, 0.7, 0.1,
       -0.5, 1.2, 0.3, -0.2, 0.6, -1.1, 0.4, 0.0, 1.6, -0.3,
       0.5, 1.0, -0.6, 0.3, 1.4, -0.2, 0.6, -1.5, 0.2, 0.8,
       -0.4, 1.2, 0.0, -1.7, 0.5, 0.9, -2.0, 0.3, 1.1, -0.5,
       0.6]

panels = [
    ("Right Arm Tests: Left gyro",
     [lx1, lx2, lx3, lx4, lx5, None],
     [ly1, ly2, ly3, ly4, ly5, ly6],
     [lz1, lz2, lz3, lz4, lz5, None], "lower center"),
    ("Right Arm Tests: Right gyro",
     [rx1, rx2, rx3, rx4, rx5],
     [ry1, ry2, ry3, ry4, None],
     [rz1, rz2, rz3, rz4, rz5], "upper center"),
]
axis_names = ["x", "y", "z"]
colors = ["orange", "orchid", "navy"]

W, H = 1689, 607
fig = plt.figure(figsize=(W / 144, H / 144), dpi=144, facecolor="#eeeeee")
boxes = [(61, 50, 746, 560), (978, 50, 1660, 560)]

for (title, xs, ys, zs, loc), (x0, y0, x1, y1) in zip(panels, boxes):
    ax = fig.add_axes([x0 / W, 1 - y1 / H, (x1 - x0) / W, (y1 - y0) / H])
    ax.set_facecolor("#eeeeee")
    for i in range(len(xs)):
        for name, col, series in zip(axis_names, colors, (xs[i], ys[i], zs[i])):
            if series is None:
                continue
            t = np.linspace(0, 13, len(series))
            ax.plot(t, series, color=col, lw=1.7, label=name if i == 0 else None)
    ax.set_ylim(-3, 3)
    ax.set_xticks(range(0, 13, 2))
    ax.set_yticks(range(-3, 4))
    ax.tick_params(labelsize=11)
    ax.set_title(title, fontsize=13)
    ax.legend(loc=loc, fontsize=11)

# screenshot seams between the two captures
for xp in (834, 867):
    fig.add_artist(Line2D([xp / W, xp / W], [0, 1], transform=fig.transFigure,
                          color="#dcdcdc", lw=1.2))
fig.add_artist(Rectangle((0, 1 - 5 / H), 1, 5 / H, transform=fig.transFigure,
                         color="#f6f6f6", lw=0))

fig.savefig("out.png", dpi=144, facecolor=fig.get_facecolor())
